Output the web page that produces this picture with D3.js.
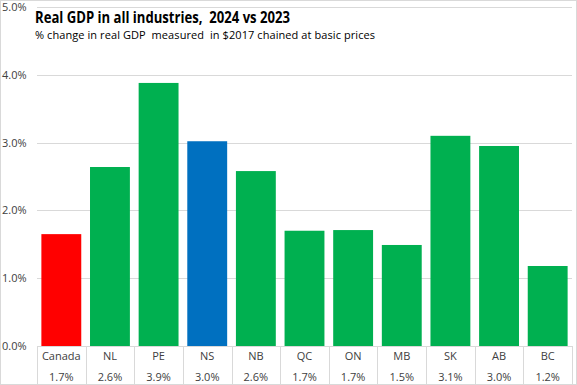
<!DOCTYPE html>
<html>
<head>
    <script src="https://d3js.org/d3.v7.min.js"></script>
    <style>
        body { margin: 0; background: #fff; }
        text { font-family: "Open Sans", "Noto Sans", Arial, sans-serif; white-space: pre; }
    </style>
</head>
<body>
<div id="chart"></div>
<script>
    const categories = ["Canada", "NL", "PE", "NS", "NB", "QC", "ON", "MB", "SK", "AB", "BC"];
    const values = [1.65, 2.64, 3.88, 3.02, 2.58, 1.70, 1.71, 1.49, 3.10, 2.95, 1.18];
    const tableLabels = ["1.7%", "2.6%", "3.9%", "3.0%", "2.6%", "1.7%", "1.7%", "1.5%", "3.1%", "3.0%", "1.2%"];
    const barColors = ["#FF0000", "#00B050", "#00B050", "#0070C0", "#00B050", "#00B050", "#00B050", "#00B050", "#00B050", "#00B050", "#00B050"];
    const yTicks = [0, 1, 2, 3, 4, 5];

    const width = 577, height = 385;
    const plot = { left: 37, right: 572, top: 7, bottom: 346 };

    const svg = d3.select("#chart").append("svg")
        .attr("width", width)
        .attr("height", height);

    // chart border
    svg.append("rect")
        .attr("x", 0.5).attr("y", 0.5)
        .attr("width", width - 1).attr("height", height - 1)
        .attr("fill", "#fff")
        .attr("stroke", "#d9d9d9");

    const x = d3.scaleBand()
        .domain(categories)
        .range([plot.left, plot.right])
        .paddingInner(0.18)
        .paddingOuter(0.09);

    const y = d3.scaleLinear()
        .domain([0, 5])
        .range([plot.bottom, plot.top]);

    // gridlines
    svg.append("g")
        .selectAll("line")
        .data(yTicks.filter(d => d > 0))
        .enter()
        .append("line")
        .attr("x1", plot.left)
        .attr("x2", plot.right)
        .attr("y1", d => Math.round(y(d)) + 0.5)
        .attr("y2", d => Math.round(y(d)) + 0.5)
        .attr("stroke", "#d9d9d9");

    // y tick labels
    svg.append("g")
        .selectAll("text")
        .data(yTicks)
        .enter()
        .append("text")
        .attr("x", 2)
        .attr("y", d => y(d) + 4)
        .attr("font-size", 11)
        .attr("fill", "#404040")
        .text(d => d.toFixed(1) + "%");

    // bars
    svg.append("g")
        .selectAll("rect")
        .data(values)
        .enter()
        .append("rect")
        .attr("x", (d, i) => x(categories[i]))
        .attr("width", x.bandwidth())
        .attr("y", d => y(d))
        .attr("height", d => y(0) - y(d))
        .attr("fill", (d, i) => barColors[i]);

    // data table under the axis
    const cellW = (plot.right - plot.left) / categories.length;
    const cellLeft = i => plot.left + i * cellW;

    svg.append("line")
        .attr("x1", plot.left).attr("x2", plot.right)
        .attr("y1", plot.bottom + 0.5).attr("y2", plot.bottom + 0.5)
        .attr("stroke", "#d9d9d9");

    svg.append("g")
        .selectAll("line")
        .data(d3.range(categories.length + 1))
        .enter()
        .append("line")
        .attr("x1", i => Math.round(cellLeft(i)) + 0.5)
        .attr("x2", i => Math.round(cellLeft(i)) + 0.5)
        .attr("y1", plot.bottom)
        .attr("y2", height)
        .attr("stroke", "#d9d9d9");

    svg.append("g")
        .selectAll("text")
        .data(categories)
        .enter()
        .append("text")
        .attr("x", (d, i) => cellLeft(i) + cellW / 2)
        .attr("y", 360)
        .attr("text-anchor", "middle")
        .attr("font-size", 11)
        .attr("fill", "#404040")
        .text(d => d);

    svg.append("g")
        .selectAll("text")
        .data(tableLabels)
        .enter()
        .append("text")
        .attr("x", (d, i) => cellLeft(i) + cellW / 2)
        .attr("y", 381)
        .attr("text-anchor", "middle")
        .attr("font-size", 11)
        .attr("fill", "#404040")
        .text(d => d);

    // titles
    svg.append("text")
        .attr("x", 35)
        .attr("y", 23)
        .attr("font-size", 15.5)
        .attr("font-weight", "bold")
        .attr("fill", "#000")
        .attr("textLength", 255)
        .attr("lengthAdjust", "spacingAndGlyphs")
        .text("Real GDP in all industries,  2024 vs 2023");

    svg.append("text")
        .attr("x", 35)
        .attr("y", 39)
        .attr("font-size", 11)
        .attr("fill", "#000")
        .attr("textLength", 340)
        .text("% change in real GDP  measured  in $2017 chained at basic prices");
</script>
</body>
</html>
